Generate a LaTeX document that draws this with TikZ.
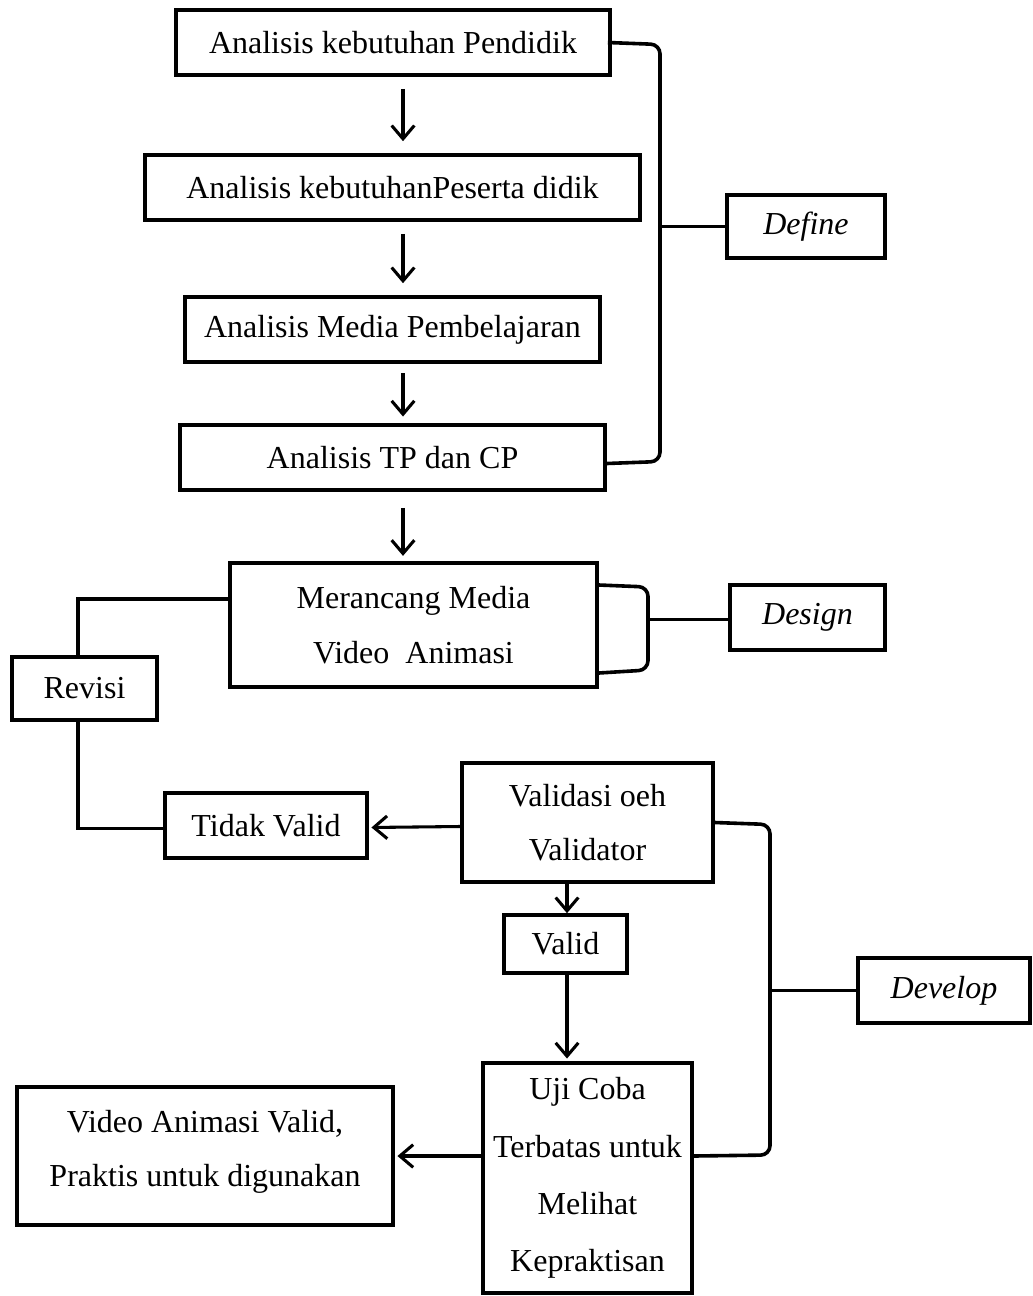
\documentclass[tikz,border=0pt]{standalone}
\usepackage{fontspec}
\setmainfont{Liberation Serif}
\usetikzlibrary{arrows.meta,calc}
\tikzset{
  box/.style={draw, line width=2.7pt, inner sep=0pt, align=center,
    font=\fontsize{24}{41}\selectfont},
  wh/.style 2 args={minimum width=#1*0.75pt, minimum height=#2*0.75pt},
  arr/.style={line width=2.3pt, -{Straight Barb[length=10pt,width=17pt]}},
  ln/.style={line width=2.7pt, rounded corners=7pt}}
\begin{document}
\begin{tikzpicture}[x=0.75pt,y=-0.75pt]
\useasboundingbox (0,0) rectangle (1032,1296);
\fill[white] (0,0) rectangle (1032,1296);

\node[box, wh={434}{65}] (A1) at (393,42.5) {Analisis kebutuhan Pendidik};
\node[box, wh={495}{65}] (A2) at (392.5,187.5) {Analisis kebutuhanPeserta didik};
\node[box, wh={415}{65}] (A3) at (392.5,329.5) {Analisis Media Pembelajaran};
\node[box, wh={425}{65}] (A4) at (392.5,457.5) {Analisis TP dan CP};
\node[box, wh={367}{124}] (M) at (413.5,625) {Merancang Media\\Video\ \ Animasi};
\node[box, wh={158}{63}] (Df) at (806,226.5) {\itshape Define};
\node[box, wh={155}{65}] (Ds) at (807.5,617.5) {\itshape Design};
\node[box, wh={145}{63}] (R) at (84.5,688.5) {Revisi};
\node[box, wh={202}{65}] (TV) at (266,825.5) {Tidak Valid};
\node[box, wh={251}{119}] (Val) at (587.5,822.5) {Validasi oeh\\Validator};
\node[box, wh={123}{58}] (V) at (565.5,944) {Valid};
\node[box, wh={172}{65}] (Dv) at (944,990.5) {\itshape Develop};
\node[box, wh={209}{230}, font=\fontsize{24}{43}\selectfont] (U) at (587.5,1178)
  {Uji Coba\\Terbatas untuk\\Melihat\\Kepraktisan};
\node[box, wh={376}{138}] (Vid) at (205,1156) {Video Animasi Valid,\\Praktis untuk digunakan\\[-42pt]\strut};

\coordinate (ax) at (403,0);
\coordinate (vx) at (567,0);
\coordinate (dfx) at (660,0);
\coordinate (dsx) at (648,0);
\coordinate (dvx) at (770,0);
\coordinate (rx) at (78,0);

% main arrows
\draw[arr, shorten <=9pt, shorten >=9pt] (A1.south -| ax) -- (A2.north -| ax);
\draw[arr, shorten <=9pt, shorten >=9pt] (A2.south -| ax) -- (A3.north -| ax);
\draw[arr, shorten <=7pt, shorten >=5pt] (A3.south -| ax) -- (A4.north -| ax);
\draw[arr, shorten <=12pt, shorten >=4pt] (A4.south -| ax) -- (M.north -| ax);
\draw[arr] (Val.south -| vx) -- (V.north -| vx);
\draw[arr, shorten >=2pt] (V.south -| vx) -- (U.north -| vx);
\draw[arr, shorten >=2pt] ($(Val.west)+(0,4)$) -- ($(TV.east)+(0,2)$);
\draw[arr, shorten >=2pt] (U.west |- Vid.east) -- (Vid.east);

% Define bracket
\draw[ln] ([xshift=-3pt]A1.east) -- ($(dfx |- A1.east)+(0,2)$) -- ($(dfx |- A4.east)+(0,4)$) -- ($(A4.east)+(0,6)$);
\draw[line width=2.7pt] (dfx |- Df.west) -- (Df.west);

% Design bracket
\draw[ln] ($(M.east)+(0,-40)$) -- ($(dsx |- M.east)+(0,-38)$) -- ($(dsx |- M.east)+(0,45)$) -- ($(M.east)+(0,48)$);
\draw[line width=2.7pt] ($(dsx |- Ds.west)+(0,2)$) -- ($(Ds.west)+(0,2)$);

% Develop bracket
\draw[ln] (Val.east) -- ($(dvx |- Val.east)+(0,2)$) -- ($(dvx |- Vid.east)+(0,-1)$) -- (U.east |- Vid.east);
\draw[line width=2.7pt] (dvx |- Dv.west) -- (Dv.west);

% Revisi loop
\draw[line width=2.7pt] ($(M.west)+(0,-26)$) -| (R.north -| rx);
\draw[line width=2.7pt] (R.south -| rx) |- ($(TV.west)+(0,3)$);
\end{tikzpicture}
\end{document}
